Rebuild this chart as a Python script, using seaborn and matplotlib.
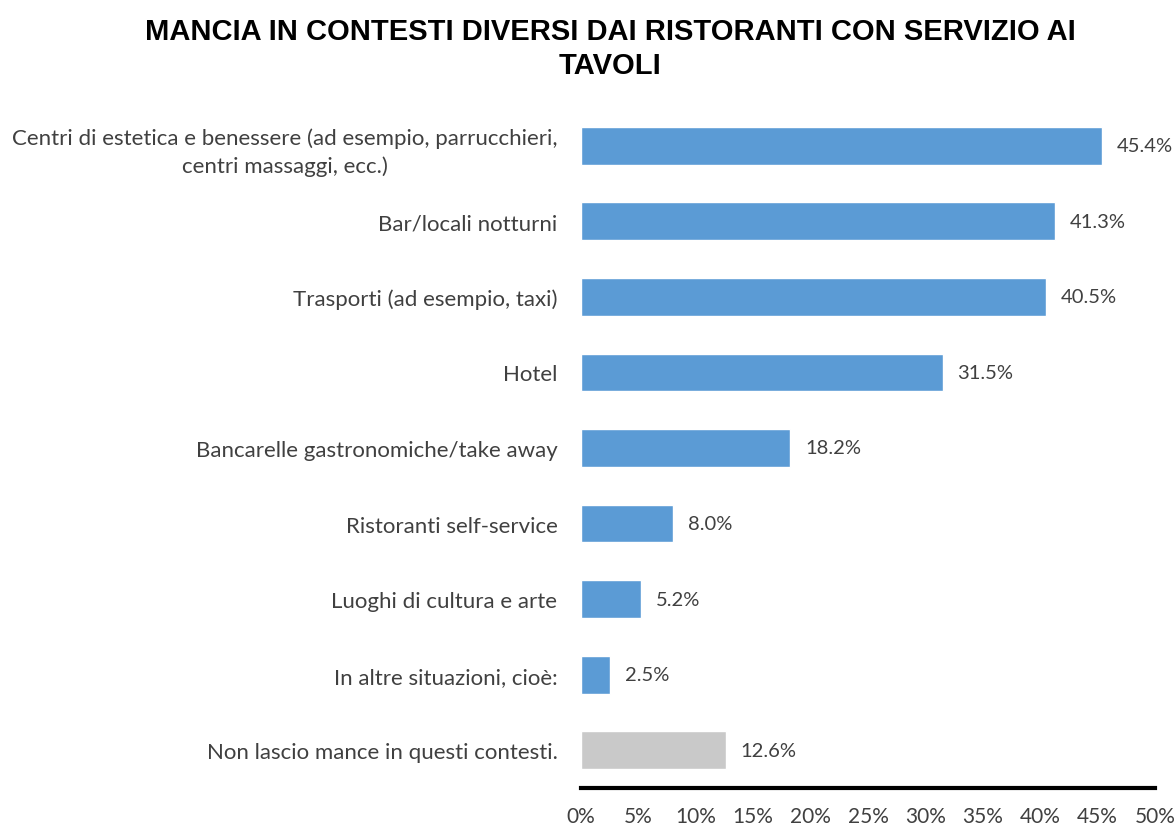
import matplotlib
matplotlib.use("Agg")
import matplotlib.pyplot as plt
import seaborn as sns
import pandas as pd
from matplotlib.ticker import PercentFormatter

categories = [
    "Centri di estetica e benessere (ad esempio, parrucchieri,\ncentri massaggi, ecc.)",
    "Bar/locali notturni",
    "Trasporti (ad esempio, taxi)",
    "Hotel",
    "Bancarelle gastronomiche/take away",
    "Ristoranti self-service",
    "Luoghi di cultura e arte",
    "In altre situazioni, cioè:",
    "Non lascio mance in questi contesti.",
]
values = [45.4, 41.3, 40.5, 31.5, 18.2, 8.0, 5.2, 2.5, 12.6]
bar_colors = ["#5B9BD5"] * 8 + ["#C9C9C9"]
x_ticks = [0, 5, 10, 15, 20, 25, 30, 35, 40, 45, 50]

sns.set_theme(style="white")
plt.rcParams['font.family'] = ['Lato', 'DejaVu Sans']
text_color = "#404040"

df = pd.DataFrame({"category": categories, "value": values})

fig = plt.figure(figsize=(11.76, 8.29), dpi=100)
ax = fig.add_axes([581 / 1176, 40 / 829, (1155 - 581) / 1176, (789 - 109) / 829])

sns.barplot(data=df, y="category", x="value", hue="category", palette=bar_colors,
            orient="h", width=0.5, legend=False, ax=ax, saturation=1)

# value labels
for i, v in enumerate(values):
    ax.text(v + 1.3, i, f"{v:.1f}%", va="center", ha="left", fontsize=14.5, color=text_color)

ax.set_xlim(0, 50)
ax.set_ylim(8.5, -0.5)
ax.set_xticks(x_ticks)
ax.xaxis.set_major_formatter(PercentFormatter(decimals=0))
ax.tick_params(axis="x", length=0, pad=13, labelsize=15, labelcolor=text_color)
ax.tick_params(axis="y", length=0, pad=17, labelsize=16, labelcolor=text_color)
for lbl in ax.get_yticklabels():
    lbl.set_horizontalalignment("right")
    lbl.set_multialignment("center")
    lbl.set_linespacing(1.45)
ax.set_xlabel("")
ax.set_ylabel("")
for s in ["top", "right", "left"]:
    ax.spines[s].set_visible(False)
ax.spines["bottom"].set_color("black")
ax.spines["bottom"].set_linewidth(3)

fig.text(0.519, 0.978, "MANCIA IN CONTESTI DIVERSI DAI RISTORANTI CON SERVIZIO AI\nTAVOLI",
         ha="center", va="top", fontsize=21, fontweight="bold", color="black",
         family=['Liberation Sans'], linespacing=1.25)

fig.savefig("out.png", dpi=100)
